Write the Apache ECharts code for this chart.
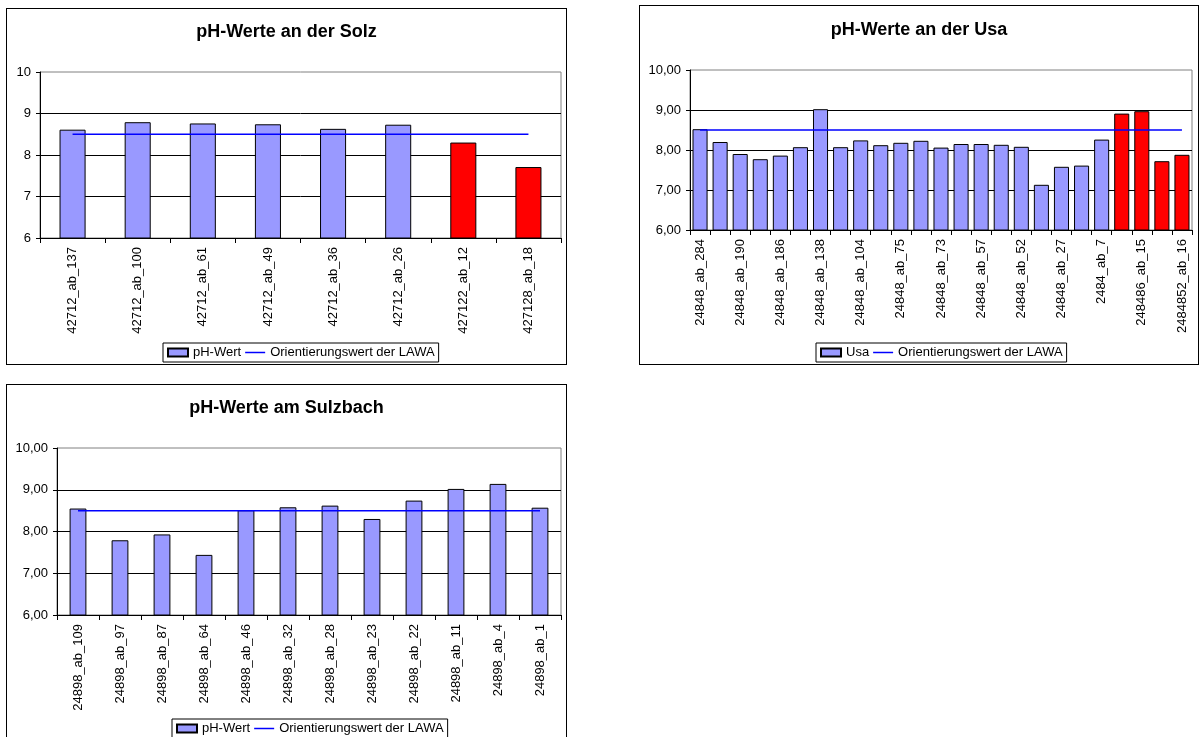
<!DOCTYPE html>
<html>
<head>
<meta charset="utf-8">
<script src="https://cdn.jsdelivr.net/npm/echarts@6/dist/echarts.min.js"></script>
<style>
  html, body { margin: 0; padding: 0; background: #fff; overflow: hidden; }
  body { width: 1200px; height: 737px; position: relative; }
  .chart { position: absolute; box-sizing: border-box; border: 1px solid #000; background: #fff; }
</style>
</head>
<body>
<div id="solz" class="chart" style="left:6px;top:8px;width:561px;height:357px"></div>
<div id="usa" class="chart" style="left:639px;top:5px;width:560px;height:360px"></div>
<div id="sulzbach" class="chart" style="left:6px;top:384px;width:561px;height:357px"></div>

<script>
// Orientierungswert der LAWA
const LAWA = 8.5;

// Solz
const solzCats = ["42712_ab_137", "42712_ab_100", "42712_ab_61", "42712_ab_49",
  "42712_ab_36", "42712_ab_26", "427122_ab_12", "427128_ab_18"];
const solzPh = [8.61, 8.79, 8.76, 8.74, 8.63, 8.73, 8.30, 7.71];
const solzRed = [6, 7];

// Usa (nur jede zweite Beschriftung ist lesbar)
const usaCats = ["24848_ab_284", "", "24848_ab_190", "", "24848_ab_186", "",
  "24848_ab_138", "", "24848_ab_104", "", "24848_ab_75", "", "24848_ab_73", "",
  "24848_ab_57", "", "24848_ab_52", "", "24848_ab_27", "", "2484_ab_7", "",
  "248486_ab_15", "", "2484852_ab_16"];
const usaPh = [8.52, 8.20, 7.90, 7.77, 7.86, 8.07, 9.02, 8.07, 8.24, 8.12, 8.18, 8.23,
  8.06, 8.15, 8.15, 8.13, 8.08, 7.13, 7.58, 7.61, 8.26, 8.91, 8.97, 7.72, 7.88];
const usaRed = [21, 22, 23, 24];

// Sulzbach
const sulzCats = ["24898_ab_109", "24898_ab_97", "24898_ab_87", "24898_ab_64",
  "24898_ab_46", "24898_ab_32", "24898_ab_28", "24898_ab_23", "24898_ab_22",
  "24898_ab_11", "24898_ab_4", "24898_ab_1"];
const sulzPh = [8.55, 7.79, 7.93, 7.44, 8.51, 8.58, 8.62, 8.30, 8.74, 9.02, 9.14, 8.57];
const sulzRed = [];

const yTicks = [6, 7, 8, 9, 10];

const FONT = "'Liberation Sans', Arial, sans-serif";
const FS = 13;
const ICON_W = 20;

// legend is centred on the plot area, so measure its width
function textWidth(s) {
  const ctx = document.createElement("canvas").getContext("2d");
  ctx.font = FS + "px 'Liberation Sans', Arial";
  return ctx.measureText(s).width;
}
function legendLeft(names, grid) {
  let w = 8 + 4 * (names.length - 1);
  names.forEach((n) => { w += ICON_W + 5 + textWidth(n); });
  return Math.round(grid.left + grid.width / 2 - w / 2);
}

function makeOption(cfg) {
  const barName = cfg.barName;
  const lineName = "Orientierungswert der LAWA";
  return {
    animation: false,
    textStyle: { fontFamily: FONT },
    title: {
      text: cfg.title,
      left: "center",
      top: cfg.titleTop,
      padding: 0,
      textStyle: { fontFamily: FONT, fontSize: 18, fontWeight: "bold", color: "#000" },
    },
    legend: {
      data: [
        { name: barName, icon: "rect" },
        { name: lineName, icon: "path://M0,0H40V3H0Z" },
      ],
      left: legendLeft([barName, lineName], cfg.grid),
      bottom: 2,
      padding: [3, 4],
      itemGap: 4,
      itemWidth: ICON_W,
      itemHeight: 8,
      borderColor: "#000",
      borderWidth: 1,
      backgroundColor: "#fff",
      textStyle: { fontFamily: FONT, fontSize: FS, color: "#000" },
    },
    grid: Object.assign({
      show: true,
      borderColor: "#808080",
      borderWidth: 1,
      backgroundColor: "transparent",
      containLabel: false,
      outerBoundsMode: "none",
    }, cfg.grid),
    xAxis: {
      type: "category",
      data: cfg.cats,
      boundaryGap: true,
      axisLine: { lineStyle: { color: "#000", width: 1 } },
      axisTick: { show: true, interval: 0, length: 5, lineStyle: { color: "#000" } },
      axisLabel: {
        interval: cfg.labelInterval,
        rotate: 90,
        margin: 9,
        fontFamily: FONT,
        fontSize: FS,
        color: "#000",
      },
      splitLine: { show: false },
    },
    yAxis: {
      type: "value",
      min: yTicks[0],
      max: yTicks[yTicks.length - 1],
      interval: 1,
      axisLine: { show: true, lineStyle: { color: "#000", width: 1 } },
      axisTick: { show: true, length: 4, lineStyle: { color: "#000" } },
      axisLabel: {
        margin: 9,
        fontFamily: FONT,
        fontSize: FS,
        color: "#000",
        formatter: cfg.yFormat,
      },
      splitLine: {
        show: true,
        showMinLine: false,
        showMaxLine: false,
        lineStyle: { color: "#000", width: 1 },
      },
    },
    series: [
      {
        name: barName,
        type: "bar",
        barCategoryGap: cfg.gap,
        itemStyle: { color: "#9999ff", borderColor: "#000", borderWidth: 1 },
        data: cfg.values.map((v, i) => cfg.red.indexOf(i) >= 0
          ? { value: v, itemStyle: { color: "#ff0000" } }
          : v),
      },
      {
        name: lineName,
        type: "line",
        symbol: "none",
        lineStyle: { color: "#0000ff", width: 1.5 },
        itemStyle: { color: "#0000ff", borderWidth: 0 },
        data: cfg.cats.map(() => LAWA),
      },
    ],
  };
}

const intFmt = (v) => String(v);
const decFmt = (v) => v.toFixed(2).replace(".", ",");

echarts.init(document.getElementById("solz")).setOption(makeOption({
  title: "pH-Werte an der Solz",
  titleTop: 14,
  barName: "pH-Wert",
  cats: solzCats,
  values: solzPh,
  red: solzRed,
  gap: "60%",
  labelInterval: 0,
  yFormat: intFmt,
  grid: { left: 33, top: 63, width: 521, height: 166 },
}));

echarts.init(document.getElementById("usa")).setOption(makeOption({
  title: "pH-Werte an der Usa",
  titleTop: 15,
  barName: "Usa",
  cats: usaCats,
  values: usaPh,
  red: usaRed,
  gap: "25%",
  labelInterval: 1,
  yFormat: decFmt,
  grid: { left: 50, top: 64, width: 502, height: 160 },
}));

echarts.init(document.getElementById("sulzbach")).setOption(makeOption({
  title: "pH-Werte am Sulzbach",
  titleTop: 14,
  barName: "pH-Wert",
  cats: sulzCats,
  values: sulzPh,
  red: sulzRed,
  gap: "60%",
  labelInterval: 0,
  yFormat: decFmt,
  grid: { left: 50, top: 63, width: 504, height: 167 },
}));
</script>
</body>
</html>
